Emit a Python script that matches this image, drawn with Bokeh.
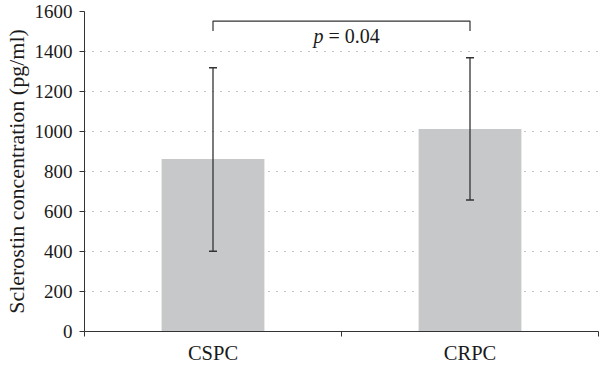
from bokeh.plotting import figure
from bokeh.models import Range1d, FixedTicker, ColumnDataSource
from bokeh.core.properties import value
from bokeh.embed import file_html
from bokeh.resources import INLINE

categories = ["CSPC", "CRPC"]
means = [862, 1012]
err_upper = [1319, 1369]
err_lower = [401, 658]
y_ticks = [0, 200, 400, 600, 800, 1000, 1200, 1400, 1600]
p_label = "0.04"

FONT = "Liberation Serif"
TXT = "#1a1a1a"
AX = "#333333"

n = len(categories)
xs = [i + 0.5 for i in range(n)]
src = ColumnDataSource(dict(x=xs, top=means, up=err_upper, lo=err_lower))

p = figure(width=600, height=366, output_backend="svg", toolbar_location=None,
           x_range=Range1d(0, n), y_range=Range1d(0, 1600),
           min_border_left=84, min_border_right=2, min_border_top=11, min_border_bottom=35)
p.outline_line_color = None
p.background_fill_color = "white"
p.border_fill_color = "white"

p.vbar(x="x", top="top", width=0.4, bottom=0, source=src,
       fill_color="#c7c8ca", line_color=None)
p.segment(x0="x", y0="lo", x1="x", y1="up", source=src, line_color=AX, line_width=1.3)
p.scatter(x="x", y="up", marker="dash", size=8, source=src, line_color=AX, line_width=1.5)
p.scatter(x="x", y="lo", marker="dash", size=8, source=src, line_color=AX, line_width=1.5)

# significance bracket between the two bar centres
bt, bb = 1552, 1502
p.line(x=[xs[0], xs[0], xs[1], xs[1]], y=[bb, bt, bt, bb], line_color=AX, line_width=1.2)
mid = (xs[0] + xs[1]) / 2
p.text(x=[mid], y=[1477], text=["p"], text_font=value(FONT), text_font_style="italic",
       text_font_size="20px", text_align="right", text_baseline="middle",
       x_offset=-18, text_color=TXT)
p.text(x=[mid], y=[1477], text=["= " + p_label], text_font=value(FONT),
       text_font_size="20px", text_align="left", text_baseline="middle",
       x_offset=-13, text_color=TXT)

# axes
p.xaxis.ticker = FixedTicker(ticks=xs, minor_ticks=list(range(n + 1)))
p.xaxis.major_label_overrides = {x: c for x, c in zip(xs, categories)}
p.xaxis.major_tick_line_color = None
p.xaxis.major_tick_out = 0
p.xaxis.major_tick_in = 0
p.xaxis.minor_tick_in = 0
p.xaxis.minor_tick_out = 5
p.xaxis.minor_tick_line_color = AX
p.xaxis.axis_line_color = AX
p.xaxis.major_label_text_font = FONT
p.xaxis.major_label_text_font_size = "20.5px"
p.xaxis.major_label_text_color = TXT
p.xaxis.major_label_standoff = 5

p.yaxis.ticker = FixedTicker(ticks=y_ticks)
p.yaxis.minor_tick_line_color = None
p.yaxis.major_tick_in = 0
p.yaxis.major_tick_out = 5
p.yaxis.major_tick_line_color = AX
p.yaxis.axis_line_color = AX
p.yaxis.major_label_text_font = FONT
p.yaxis.major_label_text_font_size = "19px"
p.yaxis.major_label_text_color = TXT
p.yaxis.major_label_standoff = 7
p.yaxis.axis_label = "Sclerostin concentration (pg/ml)"
p.yaxis.axis_label_text_font = FONT
p.yaxis.axis_label_text_font_size = "22px"
p.yaxis.axis_label_text_font_style = "normal"
p.yaxis.axis_label_text_color = TXT
p.yaxis.axis_label_standoff = 3

p.xgrid.grid_line_color = None
p.ygrid.ticker = FixedTicker(ticks=y_ticks[1:])
p.ygrid.grid_line_color = "#8a8a8a"
p.ygrid.grid_line_dash = "1 7"
p.ygrid.grid_line_width = 1

open("out.html", "w").write(file_html(p, INLINE))
